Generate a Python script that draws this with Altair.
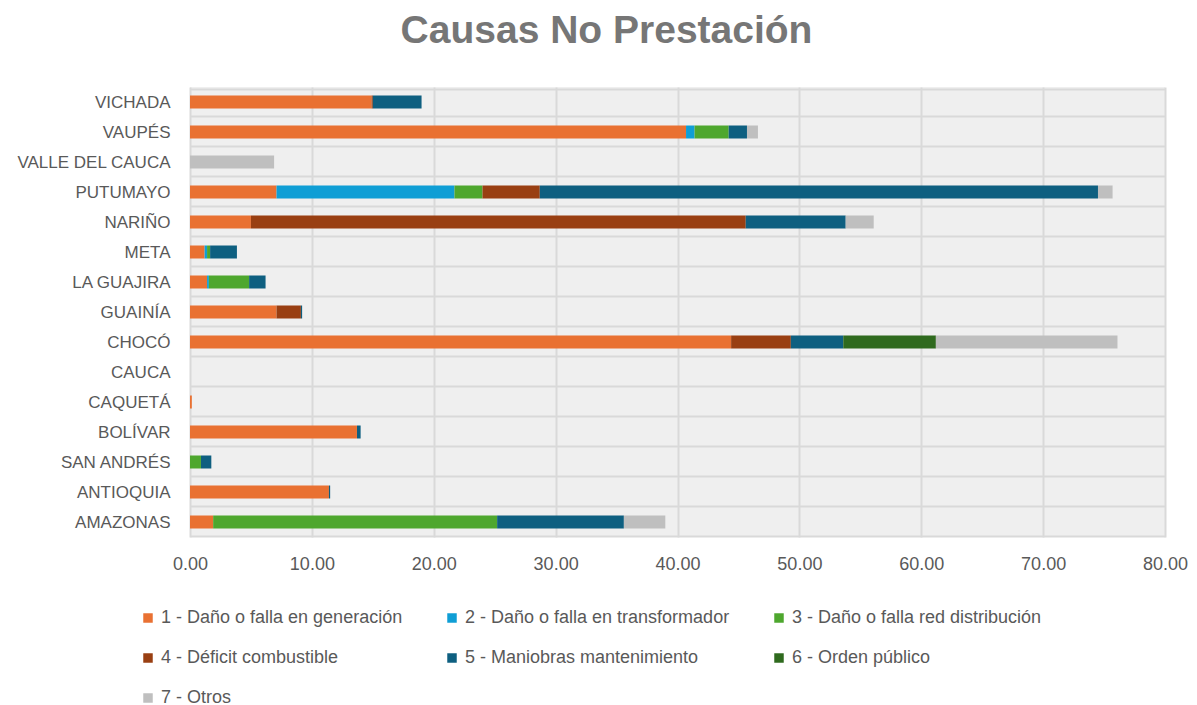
import altair as alt
import pandas as pd

departments = ["AMAZONAS", "ANTIOQUIA", "SAN ANDRÉS", "BOLÍVAR", "CAQUETÁ", "CAUCA",
               "CHOCÓ", "GUAINÍA", "LA GUAJIRA", "META", "NARIÑO", "PUTUMAYO",
               "VALLE DEL CAUCA", "VAUPÉS", "VICHADA"]

series_names = ["1 - Daño o falla en generación", "2 - Daño o falla en transformador",
                "3 - Daño o falla red distribución", "4 - Déficit combustible",
                "5 - Maniobras mantenimiento", "6 - Orden público", "7 - Otros"]

s1_generacion = [1.9, 11.4, 0, 13.7, 0.15, 0, 44.4, 7.1, 1.4, 1.2, 5.0, 7.1, 0, 40.7, 14.9]
s2_transformador = [0, 0, 0, 0, 0, 0, 0, 0, 0.15, 0.2, 0, 14.6, 0, 0.7, 0]
s3_red = [23.3, 0, 0.9, 0, 0, 0, 0, 0, 3.3, 0.25, 0, 2.3, 0, 2.8, 0]
s4_combustible = [0, 0, 0, 0, 0, 0, 4.9, 2.0, 0, 0, 40.6, 4.7, 0, 0, 0.1]
s5_maniobras = [10.4, 0.1, 0.85, 0.3, 0, 0, 4.3, 0.1, 1.35, 2.2, 8.2, 45.8, 0, 1.5, 4.0]
s6_orden = [0, 0, 0, 0, 0, 0, 7.6, 0, 0, 0, 0, 0, 0, 0, 0]
s7_otros = [3.4, 0, 0, 0, 0, 0, 14.9, 0, 0, 0, 2.3, 1.2, 6.9, 0.9, 0]

colors = ["#E97132", "#0F9ED5", "#4EA72E", "#993F12", "#0E5F80", "#2F6A1E", "#BFBFBF"]

all_series = [s1_generacion, s2_transformador, s3_red, s4_combustible,
              s5_maniobras, s6_orden, s7_otros]

rows = []
for si, (name, vals) in enumerate(zip(series_names, all_series)):
    for d, v in zip(departments, vals):
        rows.append({"dep": d, "serie": name, "orden": si, "valor": v})
df = pd.DataFrame(rows)

font = "Liberation Sans"

chart = alt.Chart(df).mark_bar(size=13).encode(
    x=alt.X("valor:Q", stack="zero",
            scale=alt.Scale(domain=[0, 80], nice=False),
            axis=alt.Axis(values=[0, 10, 20, 30, 40, 50, 60, 70, 80], format=".2f",
                          title=None, grid=True, gridColor="#d9d9d9", gridWidth=2,
                          ticks=False, domain=False, labelFontSize=18,
                          labelColor="#595959", labelFont=font, labelFlush=False,
                          labelPadding=18)),
    y=alt.Y("dep:N", sort=list(reversed(departments)),
            axis=alt.Axis(title=None, grid=True, tickBand="extent", gridColor="#d9d9d9",
                          gridWidth=2, ticks=False, domain=False, labelFontSize=17,
                          labelColor="#595959", labelFont=font, labelPadding=20)),
    color=alt.Color("serie:N",
                    scale=alt.Scale(domain=series_names, range=colors),
                    legend=alt.Legend(title=None, orient="none", legendX=-51, legendY=522,
                                      direction="horizontal", columns=3,
                                      symbolType="square", symbolSize=90,
                                      symbolStrokeWidth=0,
                                      labelFontSize=18, labelFont=font,
                                      labelColor="#595959", labelLimit=400,
                                      rowPadding=22, columnPadding=40)),
    order=alt.Order("orden:Q", sort="ascending"),
).properties(
    width=975,
    height=450,
    padding={"left": 182, "top": 79, "right": 24, "bottom": 170},
    autosize=alt.AutoSizeParams(type="none"),
    title=alt.TitleParams("Causas No Prestación", fontSize=39, font=font,
                          fontWeight="bold", color="#767676", anchor="middle",
                          dx=-71, offset=27),
).configure_view(
    fill="#efefef", stroke=None
)

chart.save("out.html", embed_options={"renderer": "svg", "actions": False})
